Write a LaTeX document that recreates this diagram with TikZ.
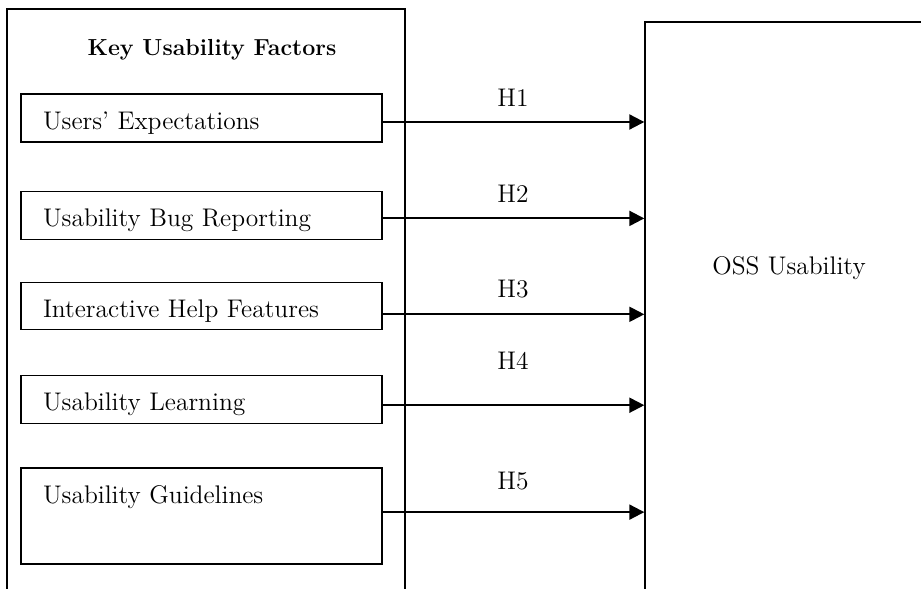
\documentclass[tikz,border=0pt]{standalone}
\usepackage{tikz}
\usetikzlibrary{arrows.meta, positioning}

\tikzset{
  factor/.style={draw, line width=0.8pt, inner xsep=0.44cm, inner ysep=0pt,
    text width=6.34cm, align=left, text height=0.71cm, text depth=0.25cm},
  frame/.style={draw, line width=0.8pt},
  hyp/.style={-{Triangle[length=0.3cm,width=0.3cm]}, line width=1.2pt}
}

\begin{document}
\begin{tikzpicture}[font=\fontsize{14.5}{17}\selectfont]
\useasboundingbox (0,0) rectangle (18.42,11.78);
\clip (0,0) rectangle (18.42,11.78);

% Left container, runs off the bottom of the page
\node[frame, minimum width=7.96cm, minimum height=12.6cm] (kuf) at (4.12,5.30) {};
\node[font=\fontsize{13.2}{16}\selectfont\bfseries] (title) at (4.24,10.78) {Key Usability Factors};

% Factor boxes
\node[factor] (f1) at (4.03,9.42) {Users' Expectations};
\node[factor, below=0.96cm of f1] (f2) {Usability Bug Reporting};
\node[factor, below=0.83cm of f2, text depth=0.23cm] (f3) {Interactive Help Features};
\node[factor, below=0.89cm of f3] (f4) {Usability Learning};
\node[factor, below=0.87cm of f4, text depth=1.21cm] (f5) {Usability Guidelines};

% Right box, cut by the page on the right and bottom
\node[frame, minimum width=7.1cm, minimum height=12.34cm] (ossbox) at (16.45,5.17) {};
\node (oss) at (15.78,6.42) {OSS Usability};

% Hypotheses H1..H5
\foreach \i/\dy/\ly in {1/-0.08/9.82, 2/-0.06/7.90, 3/-0.17/6.00, 4/-0.12/4.56, 5/0.08/2.16} {
    \path ([yshift=\dy cm]f\i.east) coordinate (s\i);
    \draw[hyp] (s\i) -- (s\i -| ossbox.west);
    \node (h\i) at (10.26,\ly) {H\i};
}
\end{tikzpicture}
\end{document}
